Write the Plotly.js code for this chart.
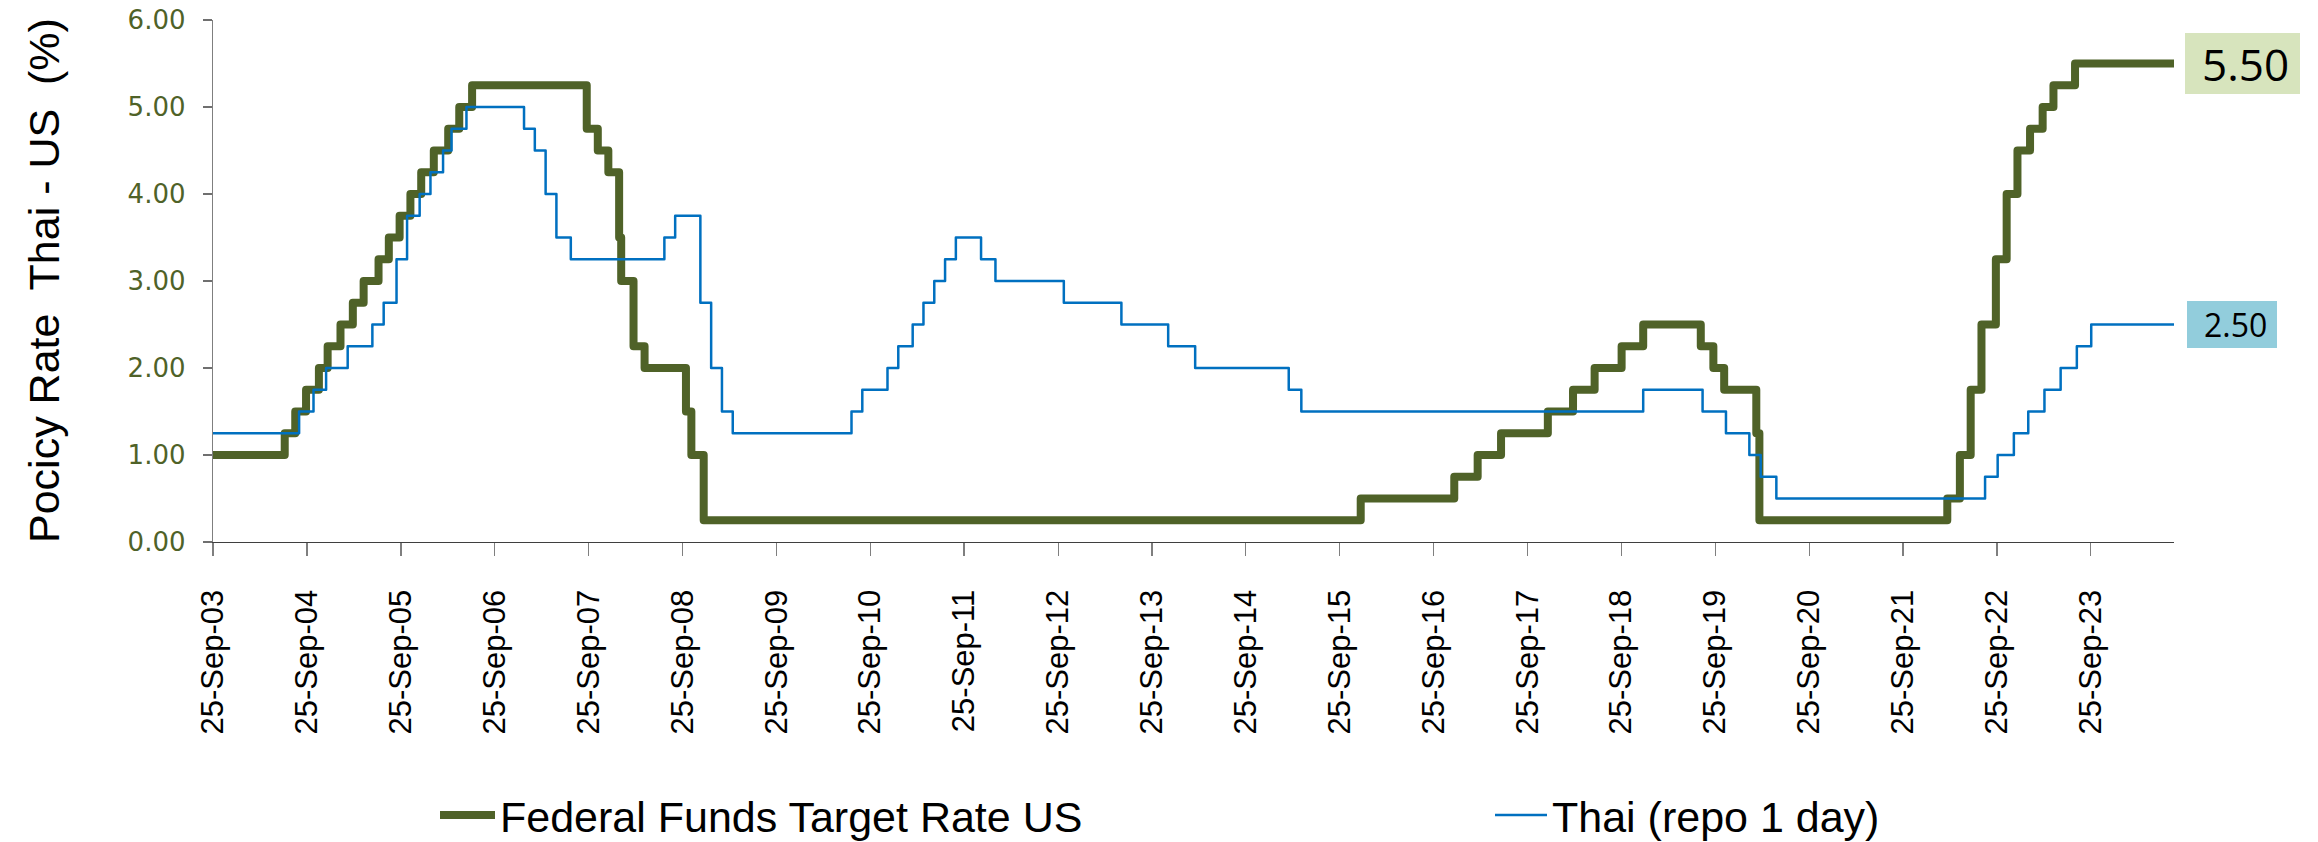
<!DOCTYPE html>
<html><head><meta charset="utf-8">
<script src="https://cdn.plot.ly/plotly-3.0.1.min.js"></script>
<style>
html,body{margin:0;padding:0;background:#fff;}
#chart{width:2318px;height:842px;}
.scatterlayer .js-line{stroke-linejoin:round !important;stroke-linecap:round !important;}
</style></head><body><div id="chart"></div>
<script>
// Federal Funds Target Rate US (step changes)
const fedDates = ['2003-09-25','2004-06-30','2004-08-10','2004-09-21','2004-11-10','2004-12-14',
 '2005-02-02','2005-03-22','2005-05-03','2005-06-30','2005-08-09','2005-09-20','2005-11-01','2005-12-13',
 '2006-01-31','2006-03-28','2006-05-10','2006-06-29','2007-09-18','2007-10-31','2007-12-11',
 '2008-01-22','2008-01-30','2008-03-18','2008-04-30','2008-10-08','2008-10-29','2008-12-16',
 '2015-12-16','2016-12-14','2017-03-15','2017-06-14','2017-12-13','2018-03-21','2018-06-13','2018-09-26','2018-12-19',
 '2019-07-31','2019-09-18','2019-10-30','2020-03-03','2020-03-15',
 '2022-03-16','2022-05-04','2022-06-15','2022-07-27','2022-09-21','2022-11-02','2022-12-14',
 '2023-02-01','2023-03-22','2023-05-03','2023-07-26','2024-08-14'];
const fedRates = [1.00,1.25,1.50,1.75,2.00,2.25,
 2.50,2.75,3.00,3.25,3.50,3.75,4.00,4.25,
 4.50,4.75,5.00,5.25,4.75,4.50,4.25,
 3.50,3.00,2.25,2.00,1.50,1.00,0.25,
 0.50,0.75,1.00,1.25,1.50,1.75,2.00,2.25,2.50,
 2.25,2.00,1.75,1.25,0.25,
 0.50,1.00,1.75,2.50,3.25,4.00,4.50,
 4.75,5.00,5.25,5.50,5.50];

// Thai policy rate (repo 1 day)
const thaiDates = ['2003-09-25','2004-08-25','2004-10-20','2004-12-08',
 '2005-03-02','2005-06-06','2005-07-20','2005-09-08','2005-10-19','2005-12-07',
 '2006-01-18','2006-03-08','2006-04-10','2006-06-07',
 '2007-01-17','2007-02-28','2007-04-11','2007-05-23','2007-07-18',
 '2008-07-16','2008-08-27','2008-12-03','2009-01-14','2009-02-25','2009-04-08',
 '2010-07-14','2010-08-25','2010-12-01','2011-01-12','2011-03-09','2011-04-20','2011-06-01','2011-07-13','2011-08-24','2011-11-30',
 '2012-01-25','2012-10-17','2013-05-29','2013-11-27','2014-03-12','2015-03-11','2015-04-29',
 '2018-12-19','2019-08-07','2019-11-06','2020-02-05','2020-03-20','2020-05-20',
 '2022-08-10','2022-09-28','2022-11-30','2023-01-25','2023-03-29','2023-05-31','2023-08-02','2023-09-27','2024-08-14'];
const thaiRates = [1.25,1.50,1.75,2.00,
 2.25,2.50,2.75,3.25,3.75,4.00,
 4.25,4.50,4.75,5.00,
 4.75,4.50,4.00,3.50,3.25,
 3.50,3.75,2.75,2.00,1.50,1.25,
 1.50,1.75,2.00,2.25,2.50,2.75,3.00,3.25,3.50,3.25,
 3.00,2.75,2.50,2.25,2.00,1.75,1.50,
 1.75,1.50,1.25,1.00,0.75,0.50,
 0.75,1.00,1.25,1.50,1.75,2.00,2.25,2.50,2.50];

const tickDates = ['2003-09-25','2004-09-25','2005-09-25','2006-09-25','2007-09-25','2008-09-25','2009-09-25',
 '2010-09-25','2011-09-25','2012-09-25','2013-09-25','2014-09-25','2015-09-25','2016-09-25','2017-09-25',
 '2018-09-25','2019-09-25','2020-09-25','2021-09-25','2022-09-25','2023-09-25'];
const tickLabels = ['25-Sep-03','25-Sep-04','25-Sep-05','25-Sep-06','25-Sep-07','25-Sep-08','25-Sep-09',
 '25-Sep-10','25-Sep-11','25-Sep-12','25-Sep-13','25-Sep-14','25-Sep-15','25-Sep-16','25-Sep-17',
 '25-Sep-18','25-Sep-19','25-Sep-20','25-Sep-21','25-Sep-22','25-Sep-23'];

const seriesNames = ['Federal Funds Target Rate US', 'Thai (repo 1 day)'];
const yTitle = 'Pocicy Rate\u00a0 Thai - US\u00a0 (%)';

const W = 2318, H = 842;
const M = {l: 213, r: 144, t: 20, b: 300};
const PW = W - M.l - M.r;
const px = v => (v - M.l) / PW;           // pixel x -> paper x
const cx = v => v / W;                     // pixel x -> container x
const cy = v => 1 - v / H;                 // pixel y -> container y
const Y0 = 0, Y1 = 6;
const py = v => (v - Y0) / (Y1 - Y0);      // data y -> paper y

const fedLast = fedRates[fedRates.length - 1];
const thaiLast = thaiRates[thaiRates.length - 1];

const traces = [
  {x: fedDates, y: fedRates, name: seriesNames[0], type: 'scatter', mode: 'lines',
   line: {shape: 'hv', color: '#4F6228', width: 8}, legend: 'legend'},
  {x: thaiDates, y: thaiRates, name: seriesNames[1], type: 'scatter', mode: 'lines',
   line: {shape: 'hv', color: '#0070C0', width: 2.5}, legend: 'legend2'}
];

const legendFont = {family: 'Liberation Sans, Arial, sans-serif', size: 43, color: '#000'};

const layout = {
  width: W, height: H,
  margin: {l: M.l, r: M.r, t: M.t, b: M.b, pad: 0},
  paper_bgcolor: '#ffffff', plot_bgcolor: '#ffffff',
  font: {family: 'Liberation Sans, Arial, sans-serif', color: '#000'},
  xaxis: {
    type: 'date', range: ['2003-09-25', '2024-08-14'], automargin: false,
    tickmode: 'array', tickvals: tickDates, ticktext: tickLabels, tickangle: -90,
    ticks: 'outside', ticklen: 13, tickwidth: 1.3, tickcolor: '#7f7f7f',
    showline: true, linecolor: '#3f3f3f', linewidth: 1.3,
    showgrid: false, zeroline: false, ticklabelstandoff: 21,
    tickfont: {family: 'Liberation Sans, Arial, sans-serif', size: 31, color: '#000'}
  },
  yaxis: {
    range: [Y0, Y1], tick0: 0, dtick: 1, tickformat: '.2f', automargin: false,
    ticks: 'outside', ticklen: 9, tickwidth: 1.3, tickcolor: '#6f6f6f',
    showline: true, linecolor: '#7f7f7f', linewidth: 1.3,
    showgrid: false, zeroline: false, ticklabelstandoff: 12,
    tickfont: {family: 'DejaVu Sans, Verdana, sans-serif', size: 26, color: '#4F6228'}
  },
  showlegend: true,
  legend: {
    orientation: 'h', xref: 'container', yref: 'container', itemwidth: 55,
    x: cx(435), xanchor: 'left', y: cy(815), yanchor: 'middle',
    bgcolor: 'rgba(0,0,0,0)', font: legendFont
  },
  legend2: {
    orientation: 'h', xref: 'container', yref: 'container', itemwidth: 52,
    x: cx(1490), xanchor: 'left', y: cy(815), yanchor: 'middle',
    bgcolor: 'rgba(0,0,0,0)', font: legendFont
  },
  shapes: [
    {type: 'rect', xref: 'paper', yref: 'paper', x0: px(2185), x1: px(2300),
     y0: py(fedLast - 0.35), y1: py(fedLast + 0.35), fillcolor: '#D7E4BD', line: {width: 0}, layer: 'below'},
    {type: 'rect', xref: 'paper', yref: 'paper', x0: px(2187), x1: px(2277),
     y0: py(thaiLast - 0.27), y1: py(thaiLast + 0.27), fillcolor: '#92CDDC', line: {width: 0}, layer: 'below'}
  ],
  annotations: [
    {xref: 'paper', yref: 'y', x: px(2291), y: fedLast, xanchor: 'right', yanchor: 'middle',
     text: fedLast.toFixed(2), showarrow: false, font: {family: 'Open Sans, Noto Sans, sans-serif', size: 44, color: '#000'}},
    {xref: 'paper', yref: 'y', x: px(2269), y: thaiLast, xanchor: 'right', yanchor: 'middle',
     text: thaiLast.toFixed(2), showarrow: false, font: {family: 'Open Sans, Noto Sans, sans-serif', size: 32, color: '#000'}},
    {xref: 'paper', yref: 'paper', x: px(44), y: 0.5, xanchor: 'center', yanchor: 'middle',
     text: yTitle, textangle: -90, showarrow: false,
     font: {family: 'Liberation Sans, Arial, sans-serif', size: 43, color: '#000'}}
  ]
};

Plotly.newPlot('chart', traces, layout, {displayModeBar: false, staticPlot: true});
</script></body></html>
